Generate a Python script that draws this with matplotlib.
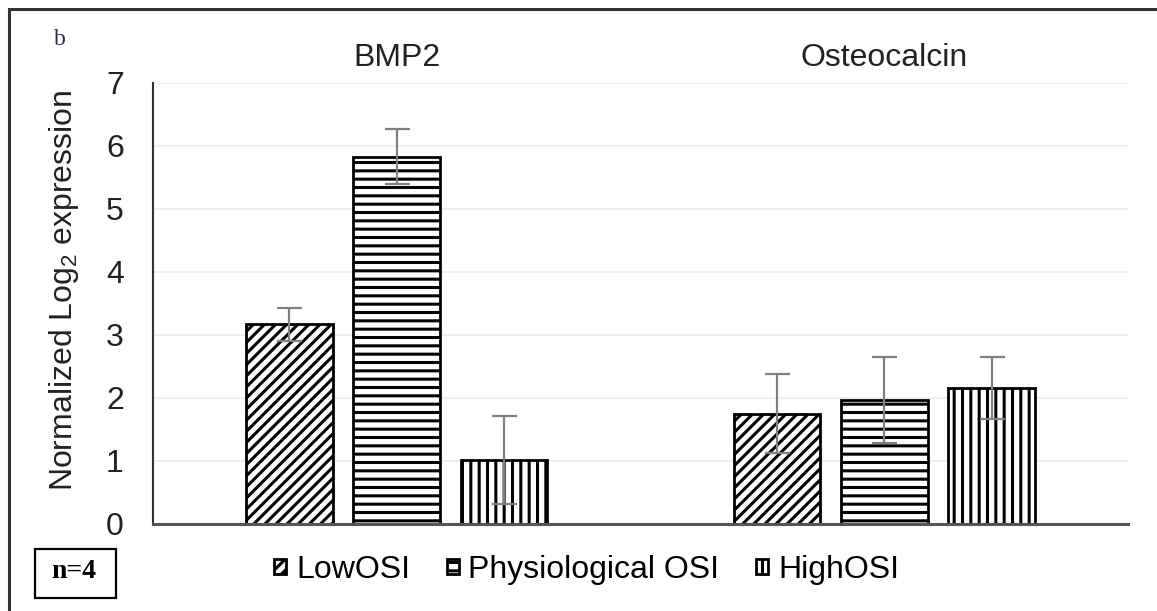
import matplotlib
matplotlib.use('Agg')
import matplotlib.pyplot as plt
from matplotlib.patches import Rectangle
import numpy as np

# Datos
genes = ['BMP2', 'Osteocalcin']
grupos = ['LowOSI', 'Physiological OSI', 'HighOSI']
medias = {
    'LowOSI': [3.17, 1.75],
    'Physiological OSI': [5.83, 1.97],
    'HighOSI': [1.01, 2.16],
}
errores = {
    'LowOSI': [0.26, 0.63],
    'Physiological OSI': [0.44, 0.68],
    'HighOSI': [0.70, 0.49],
}
yticks = [0, 1, 2, 3, 4, 5, 6, 7]

plt.rcParams['font.family'] = ['Liberation Sans', 'DejaVu Sans']
plt.rcParams['mathtext.default'] = 'regular'
plt.rcParams['hatch.linewidth'] = 2.2
plt.rcParams['hatch.color'] = 'black'

fig = plt.figure(figsize=(11.57, 6.11), dpi=100)
ax = fig.add_axes([0.1322, 0.1424, 0.8428, 0.7218])

x = np.arange(len(genes))
ancho = 0.178
paso = 0.22
tramas = ['///', '--', '||']

for i, g in enumerate(grupos):
    pos = x + (i - 1) * paso
    ax.bar(pos, medias[g], ancho, color='white', edgecolor='black',
           linewidth=2, hatch=tramas[i], label=g, zorder=2)
    ax.errorbar(pos, medias[g], yerr=errores[g], fmt='none', ecolor='#808080',
                elinewidth=1.6, capsize=9, capthick=1.6, zorder=3)

ax.set_xlim(-0.5, 1.5)
ax.set_ylim(0, 7)
ax.set_yticks(yticks)
ax.tick_params(axis='y', length=0, pad=21, labelsize=23, labelcolor='#222222')
ax.yaxis.grid(True, color='#ececec', linewidth=1.2, zorder=0)
ax.set_axisbelow(True)

ax.xaxis.tick_top()
ax.set_xticks(x)
ax.set_xticklabels(genes)
ax.tick_params(axis='x', length=0, pad=7, labelsize=23, labelcolor='#222222')

for s in ['top', 'right']:
    ax.spines[s].set_visible(False)
ax.spines['left'].set_color('#333333')
ax.spines['left'].set_linewidth(1.5)
ax.spines['bottom'].set_color('#555555')
ax.spines['bottom'].set_linewidth(2.2)

ax.set_ylabel('Normalized Log$_2$ expression', fontsize=23, color='#222222', labelpad=18)
ax.yaxis.label.set_y(0.53)

leg = ax.legend(loc='center', bbox_to_anchor=(0.507, 0.067), bbox_transform=fig.transFigure,
                ncol=3, frameon=False, fontsize=23, handlelength=0.38, handleheight=0.38,
                handletextpad=0.3, columnspacing=1.15)

# Etiqueta del panel y recuadro n=4
fig.text(0.052, 0.936, 'b', family='Liberation Serif', fontsize=17, color='#2b2b4a',
         ha='center', va='center')
fig.patches.append(Rectangle((0.0302, 0.0213), 0.0701, 0.0802, transform=fig.transFigure,
                             fill=False, edgecolor='black', linewidth=1.6))
fig.text(0.064, 0.064, 'n=4', family='Liberation Serif', fontsize=20, fontweight='bold',
         ha='center', va='center')

# Marco exterior (solo arriba e izquierda visibles)
fig.patches.append(Rectangle((0.008, -0.05), 1.1, 1.035, transform=fig.transFigure,
                             fill=False, edgecolor='#333333', linewidth=2.2))

fig.savefig('out.png', dpi=100)
